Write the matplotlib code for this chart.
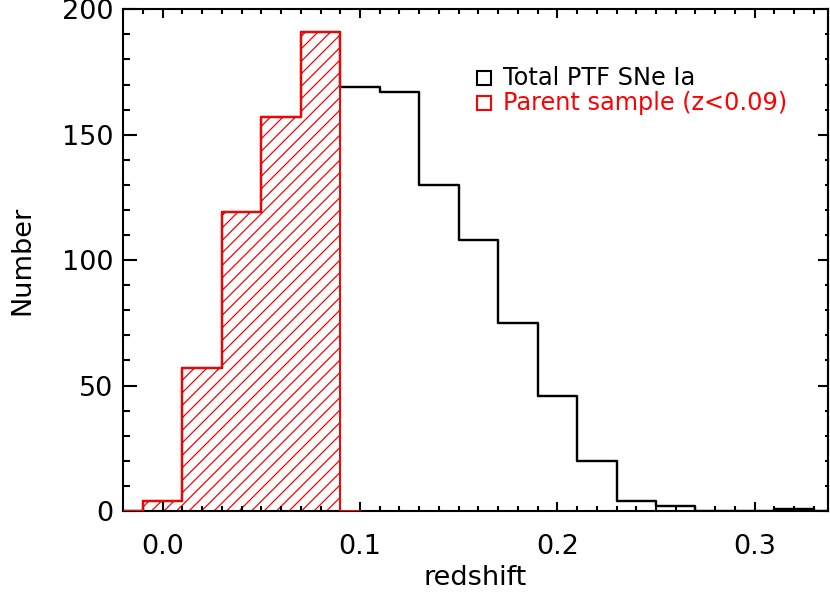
import matplotlib
matplotlib.use("Agg")
import matplotlib.pyplot as plt
from matplotlib.ticker import MultipleLocator, FormatStrFormatter

# Histogram of all PTF SNe Ia (bin centres, width 0.02, empty bins at both ends)
BIN_CENTERS = [-0.02, 0.00, 0.02, 0.04, 0.06, 0.08, 0.10, 0.12, 0.14, 0.16,
               0.18, 0.20, 0.22, 0.24, 0.26, 0.28, 0.30, 0.32, 0.34]
TOTAL_COUNTS = [0, 4, 57, 119, 157, 191, 169, 167, 130, 108,
                75, 46, 20, 4, 2, 0, 0, 1, 0]

# Parent sample z<0.09 (padded with an empty bin on both sides, IDL psym=10 style)
PARENT_CENTERS = [-0.02, 0.00, 0.02, 0.04, 0.06, 0.08, 0.10]
PARENT_COUNTS = [0, 4, 57, 119, 157, 191, 0]

LEGEND_LABELS = ["Total PTF SNe Ia", "Parent sample (z<0.09)"]
LEGEND_COLORS = ["black", "red"]

DPI = 150
plt.rcParams["font.family"] = ["DejaVu Sans"]
plt.rcParams["hatch.linewidth"] = 0.6

fig = plt.figure(figsize=(830 / DPI, 596 / DPI), dpi=DPI)
ax = fig.add_axes([0.1478, 0.1426, 0.8498, 0.8418])

ax.step(BIN_CENTERS, TOTAL_COUNTS, where="mid", color="black", lw=1.15, zorder=2)
ax.fill_between(PARENT_CENTERS, PARENT_COUNTS, step="mid", facecolor="none",
                edgecolor="red", hatch="////", linewidth=0, zorder=1)
ax.step(PARENT_CENTERS, PARENT_COUNTS, where="mid", color="red", lw=0.95, zorder=3)

ax.set_xlim(-0.0203, 0.3372)
ax.set_ylim(0, 200)

ax.xaxis.set_major_locator(MultipleLocator(0.1))
ax.xaxis.set_minor_locator(MultipleLocator(0.01))
ax.xaxis.set_major_formatter(FormatStrFormatter("%.1f"))
ax.yaxis.set_major_locator(MultipleLocator(50))
ax.yaxis.set_minor_locator(MultipleLocator(10))

for spine in ax.spines.values():
    spine.set_linewidth(1.0)

ax.tick_params(axis="x", which="both", direction="in", top=True, width=1.0,
               labelsize=13, pad=11)
ax.tick_params(axis="x", which="major", length=4.3)
ax.tick_params(axis="x", which="minor", length=2.2)
ax.tick_params(axis="y", which="both", direction="in", left=True, right=False,
               width=1.0, labelsize=13, pad=4.5)
ax.tick_params(axis="y", which="major", length=6.7)
ax.tick_params(axis="y", which="minor", length=3.4)

# right axis carries shorter ticks and no labels
sec = ax.secondary_yaxis("right")
sec.yaxis.set_major_locator(MultipleLocator(50))
sec.yaxis.set_minor_locator(MultipleLocator(10))
sec.tick_params(which="both", direction="in", width=1.0, labelright=False)
sec.tick_params(which="major", length=4.8)
sec.tick_params(which="minor", length=1.4)
sec.spines["right"].set_linewidth(1.0)

ax.set_xlabel("redshift", fontsize=13, va="center")
ax.set_ylabel("Number", fontsize=13, va="center")
ax.xaxis.set_label_coords(0.5, -0.1335)
ax.yaxis.set_label_coords(-0.1428, 0.5)

for i, (label, color) in enumerate(zip(LEGEND_LABELS, LEGEND_COLORS)):
    y = 0.8637 - i * 0.051
    ax.plot([0.512], [y], transform=ax.transAxes, marker="s", ms=6.5,
            mfc="none", mec=color, mew=1.0, clip_on=False)
    ax.text(0.5396, y, label, transform=ax.transAxes, color=color,
            fontsize=11.5, va="center", ha="left")

fig.savefig("out.png", dpi=DPI)
